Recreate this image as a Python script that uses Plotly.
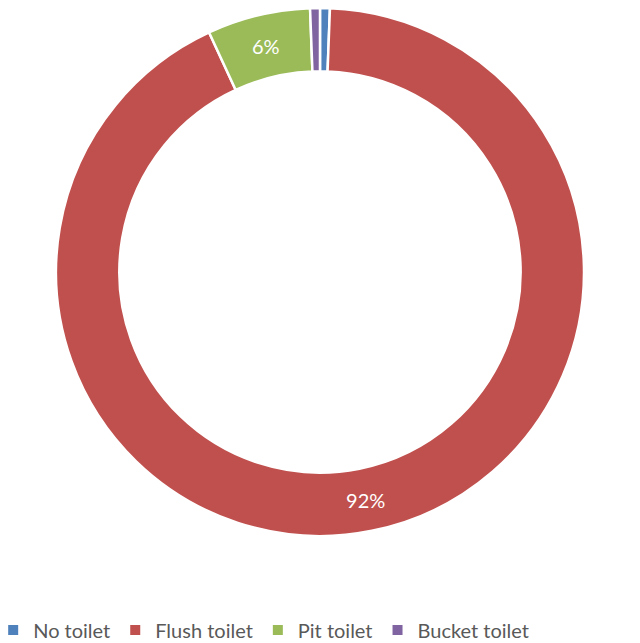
import plotly.graph_objects as go

# Share of households by toilet type (%)
categories = ["No toilet", "Flush toilet", "Pit toilet", "Bucket toilet"]
shares = [0.6, 92.5, 6.3, 0.6]
colors = ["#4F81BD", "#C0504D", "#9BBB59", "#8064A2"]

# Only label the slices wide enough to hold text
labels_text = [f"{round(v)}%" if v >= 2 else "" for v in shares]

W, H = 640, 643

fig = go.Figure(
    go.Pie(
        labels=categories,
        values=shares,
        text=labels_text,
        textinfo="text",
        textposition="inside",
        insidetextorientation="horizontal",
        insidetextfont=dict(color="white", size=20, family="Lato, sans-serif"),
        marker=dict(colors=colors, line=dict(color="white", width=2.5)),
        hole=0.76,
        sort=False,
        direction="clockwise",
        rotation=0,
        domain=dict(x=[0, 1], y=[1 - 536 / H, 1 - 8 / H]),
        showlegend=True,
    )
)

fig.update_layout(
    width=W,
    height=H,
    margin=dict(l=0, r=0, t=0, b=0, autoexpand=False),
    paper_bgcolor="white",
    plot_bgcolor="white",
    font=dict(family="Lato, sans-serif", color="#595959"),
    uniformtext=dict(minsize=20, mode="show"),
    legend=dict(
        orientation="h",
        x=0.412,
        xanchor="center",
        y=1 - 630 / H,
        yanchor="middle",
        font=dict(size=20, color="#595959", family="Lato, sans-serif"),
        itemsizing="constant",
        traceorder="normal",
    ),
)

fig.write_html("out.html")
